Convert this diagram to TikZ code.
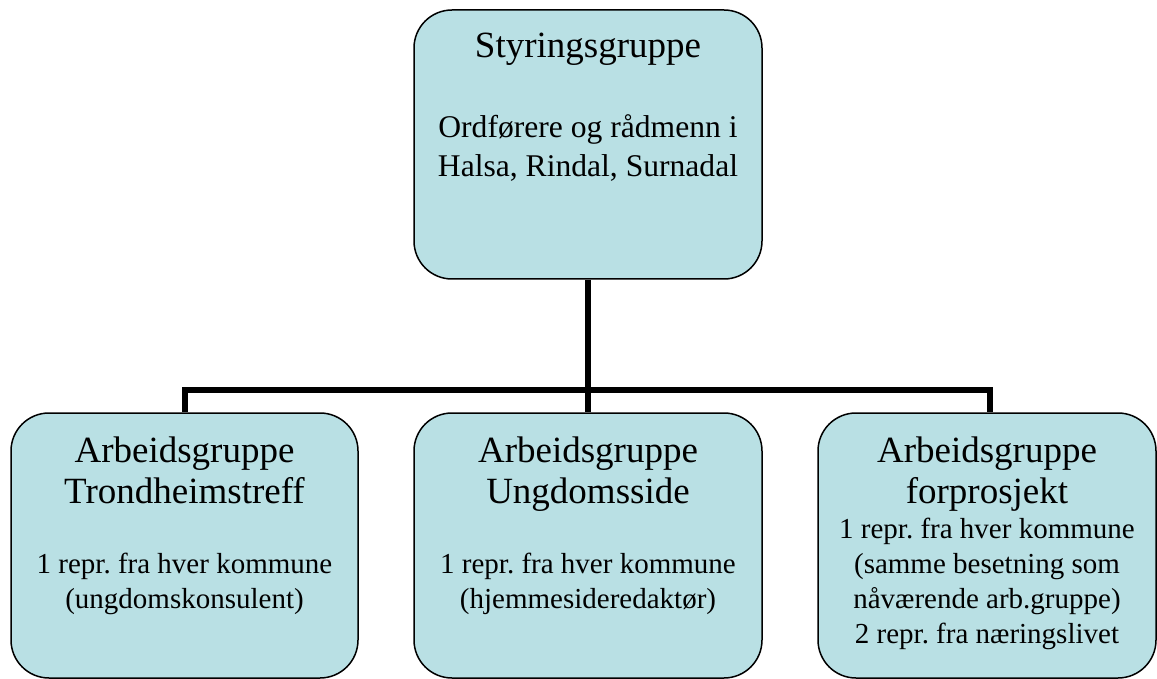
\documentclass[tikz,border=0pt]{standalone}
\usepackage{fontspec}
\setmainfont{Liberation Serif}
\frenchspacing
\definecolor{boxfill}{RGB}{185,224,228}
\newcommand{\titlesize}{\fontsize{37pt}{41pt}\selectfont}
\newcommand{\topsubsize}{\fontsize{31.6pt}{39pt}\selectfont}
\newcommand{\subsize}{\fontsize{29pt}{35pt}\selectfont}
\begin{document}
\begin{tikzpicture}[x=1pt,y=-1pt,
  orgbox/.style={draw=black, line width=1.5pt, fill=boxfill, rounded corners=38pt,
    inner sep=0pt, minimum height=265pt, align=center},
  conn/.style={draw=black, line width=6pt, line join=miter}]
\useasboundingbox (0,0) rectangle (1157,679);

\node[orgbox, minimum width=348pt, minimum height=269pt] (top) at (588,144.5)
  {\parbox[c][269pt][t]{340pt}{\centering\frenchspacing
   {\titlesize\rule{0pt}{48pt}Styringsgruppe\par}
   \vspace{41pt}
   {\topsubsize Ordførere og rådmenn i\\Halsa, Rindal, Surnadal\par}}};

\node[orgbox, minimum width=347pt] (b1) at (184.5,545.5)
  {\parbox[c][265pt][t]{340pt}{\centering\frenchspacing
   {\titlesize\rule{0pt}{49pt}Arbeidsgruppe\\Trondheimstreff\par}
   \vspace{35pt}
   {\subsize 1 repr. fra hver kommune\\(ungdomskonsulent)\par}}};

\node[orgbox, minimum width=348pt] (b2) at (588,545.5)
  {\parbox[c][265pt][t]{340pt}{\centering\frenchspacing
   {\titlesize\rule{0pt}{49pt}Arbeidsgruppe\\Ungdomsside\par}
   \vspace{35pt}
   {\subsize 1 repr. fra hver kommune\\(hjemmesideredaktør)\par}}};

\node[orgbox, minimum width=338pt] (b3) at (987,545.5)
  {\parbox[c][265pt][t]{334pt}{\centering\frenchspacing
   {\titlesize\rule{0pt}{49pt}Arbeidsgruppe\\forprosjekt\par}
   {\subsize 1 repr. fra hver kommune\\(samme besetning som\\nåværende arb.gruppe)\\2 repr. fra næringslivet\par}}};

\coordinate (bus) at (588,390);
\draw[conn] (top.south) -- (bus);
\draw[conn] (b1.north) |- (bus) -| ([xshift=3pt]b3.north);
\draw[conn] (bus) -- (b2.north);
\end{tikzpicture}
\end{document}
